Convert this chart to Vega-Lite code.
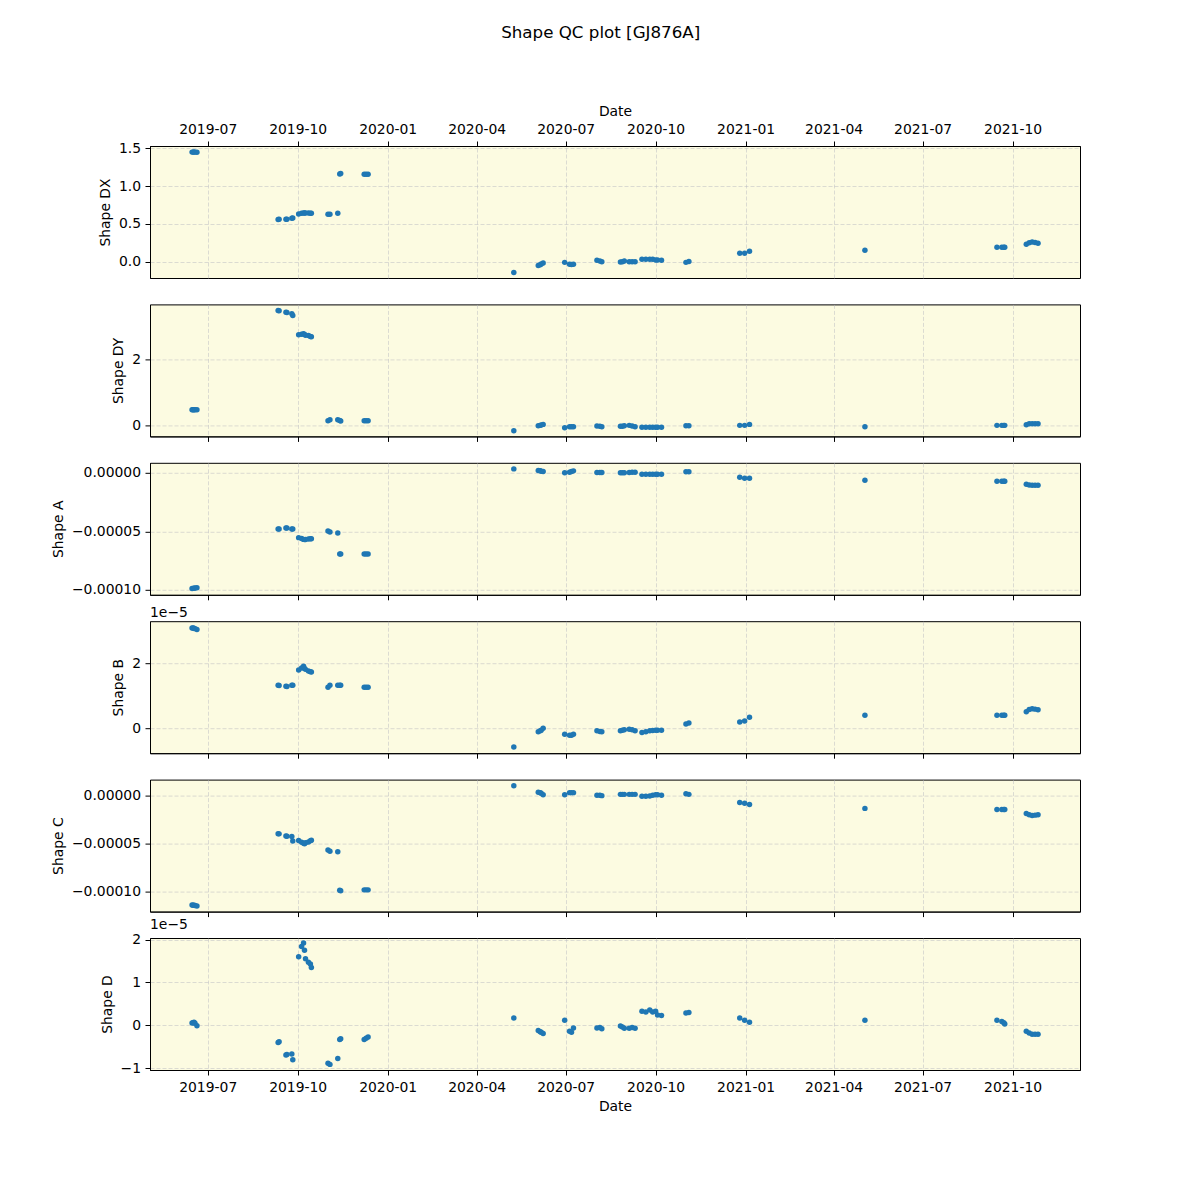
{
  "$schema": "https://vega.github.io/schema/vega-lite/v6.json",
  "background": "white",
  "padding": {"left": 50, "top": 25, "right": 10, "bottom": 10},
  "title": {"text": "Shape QC plot [GJ876A]", "fontSize": 16.7, "fontWeight": "normal", "anchor": "middle", "font": "DejaVu Sans", "color": "black", "offset": 62, "dx": 35},
  "config": {
    "font": "DejaVu Sans",
    "view": {"fill": "#fcfbe1", "stroke": "black", "strokeWidth": 1},
    "axis": {
      "labelFont": "DejaVu Sans", "labelFontSize": 13.9, "labelColor": "black",
      "titleFont": "DejaVu Sans", "titleFontSize": 13.9, "titleFontWeight": "normal", "titleColor": "black",
      "domainColor": "black", "tickColor": "black", "tickSize": 5, "tickWidth": 1, "labelPadding": 4.5,
      "grid": true, "gridColor": "#b8b8c0", "gridOpacity": 0.6, "gridDash": [4, 2], "gridWidth": 0.8,
      "titlePadding": 6
    },
    "concat": {"spacing": 26.4}
  },
  "data": {"values": [
    {"date": "2019-06-15", "DX": 1.451, "DY": 0.477, "A": -9.89e-5, "B": 3.10e-5, "C": -1.135e-4, "D": 0.055e-5},
    {"date": "2019-06-16", "DX": 1.451, "DY": 0.477, "A": -9.88e-5, "B": 3.10e-5, "C": -1.137e-4, "D": 0.06e-5},
    {"date": "2019-06-17", "DX": 1.452, "DY": 0.478, "A": -9.86e-5, "B": 3.09e-5, "C": -1.139e-4, "D": 0.07e-5},
    {"date": "2019-06-18", "DX": 1.451, "DY": 0.477, "A": -9.85e-5, "B": 3.08e-5, "C": -1.140e-4, "D": 0.05e-5},
    {"date": "2019-06-20", "DX": 1.450, "DY": 0.476, "A": -9.83e-5, "B": 3.05e-5, "C": -1.145e-4, "D": -0.008e-5},
    {"date": "2019-09-11", "DX": 0.560, "DY": 3.49, "A": -4.80e-5, "B": 1.33e-5, "C": -3.98e-5, "D": -0.40e-5},
    {"date": "2019-09-12", "DX": 0.563, "DY": 3.48, "A": -4.81e-5, "B": 1.32e-5, "C": -3.99e-5, "D": -0.38e-5},
    {"date": "2019-09-19", "DX": 0.562, "DY": 3.44, "A": -4.71e-5, "B": 1.30e-5, "C": -4.22e-5, "D": -0.69e-5},
    {"date": "2019-09-20", "DX": 0.563, "DY": 3.43, "A": -4.72e-5, "B": 1.29e-5, "C": -4.24e-5, "D": -0.68e-5},
    {"date": "2019-09-25", "DX": 0.575, "DY": 3.39, "A": -4.80e-5, "B": 1.33e-5, "C": -4.26e-5, "D": -0.67e-5},
    {"date": "2019-09-26", "DX": 0.578, "DY": 3.34, "A": -4.81e-5, "B": 1.33e-5, "C": -4.74e-5, "D": -0.80e-5},
    {"date": "2019-10-02", "DX": 0.633, "DY": 2.75, "A": -5.54e-5, "B": 1.80e-5, "C": -4.67e-5, "D": 1.60e-5},
    {"date": "2019-10-05", "DX": 0.640, "DY": 2.77, "A": -5.62e-5, "B": 1.86e-5, "C": -4.85e-5, "D": 1.84e-5},
    {"date": "2019-10-07", "DX": 0.646, "DY": 2.78, "A": -5.69e-5, "B": 1.92e-5, "C": -4.95e-5, "D": 1.92e-5},
    {"date": "2019-10-08", "DX": 0.646, "DY": 2.76, "A": -5.71e-5, "B": 1.85e-5, "C": -5.02e-5, "D": 1.75e-5},
    {"date": "2019-10-09", "DX": 0.646, "DY": 2.74, "A": -5.70e-5, "B": 1.82e-5, "C": -4.90e-5, "D": 1.55e-5},
    {"date": "2019-10-12", "DX": 0.646, "DY": 2.73, "A": -5.66e-5, "B": 1.77e-5, "C": -4.84e-5, "D": 1.47e-5},
    {"date": "2019-10-14", "DX": 0.642, "DY": 2.70, "A": -5.63e-5, "B": 1.75e-5, "C": -4.71e-5, "D": 1.43e-5},
    {"date": "2019-10-15", "DX": 0.642, "DY": 2.69, "A": -5.63e-5, "B": 1.74e-5, "C": -4.64e-5, "D": 1.35e-5},
    {"date": "2019-11-01", "DX": 0.628, "DY": 0.14, "A": -4.97e-5, "B": 1.27e-5, "C": -5.67e-5, "D": -0.885e-5},
    {"date": "2019-11-03", "DX": 0.628, "DY": 0.17, "A": -5.06e-5, "B": 1.33e-5, "C": -5.78e-5, "D": -0.91e-5},
    {"date": "2019-11-11", "DX": 0.642, "DY": 0.17, "A": -5.14e-5, "B": 1.33e-5, "C": -5.85e-5, "D": -0.775e-5},
    {"date": "2019-11-13", "DX": 1.160, "DY": 0.15, "A": -6.94e-5, "B": 1.33e-5, "C": -9.82e-5, "D": -0.33e-5},
    {"date": "2019-11-14", "DX": 1.168, "DY": 0.13, "A": -6.95e-5, "B": 1.33e-5, "C": -9.88e-5, "D": -0.31e-5},
    {"date": "2019-12-08", "DX": 1.159, "DY": 0.14, "A": -6.94e-5, "B": 1.27e-5, "C": -9.79e-5, "D": -0.33e-5},
    {"date": "2019-12-10", "DX": 1.159, "DY": 0.14, "A": -6.94e-5, "B": 1.27e-5, "C": -9.79e-5, "D": -0.30e-5},
    {"date": "2019-12-12", "DX": 1.159, "DY": 0.14, "A": -6.94e-5, "B": 1.27e-5, "C": -9.79e-5, "D": -0.27e-5},
    {"date": "2020-05-09", "DX": -0.142, "DY": -0.16, "A": 0.34e-5, "B": -0.58e-5, "C": 1.0e-5, "D": 0.17e-5},
    {"date": "2020-06-03", "DX": -0.049, "DY": -0.01, "A": 0.20e-5, "B": -0.11e-5, "C": 0.31e-5, "D": -0.12e-5},
    {"date": "2020-06-05", "DX": -0.040, "DY": 0.00, "A": 0.18e-5, "B": -0.08e-5, "C": 0.26e-5, "D": -0.15e-5},
    {"date": "2020-06-06", "DX": -0.031, "DY": 0.01, "A": 0.14e-5, "B": -0.06e-5, "C": 0.21e-5, "D": -0.16e-5},
    {"date": "2020-06-08", "DX": -0.018, "DY": 0.03, "A": 0.11e-5, "B": 0.00, "C": 0.07e-5, "D": -0.19e-5},
    {"date": "2020-06-30", "DX": -0.009, "DY": -0.07, "A": 0.0, "B": -0.19e-5, "C": 0.07e-5, "D": 0.12e-5},
    {"date": "2020-07-05", "DX": -0.035, "DY": -0.04, "A": 0.06e-5, "B": -0.22e-5, "C": 0.28e-5, "D": -0.14e-5},
    {"date": "2020-07-07", "DX": -0.037, "DY": -0.04, "A": 0.12e-5, "B": -0.22e-5, "C": 0.28e-5, "D": -0.16e-5},
    {"date": "2020-07-09", "DX": -0.035, "DY": -0.04, "A": 0.17e-5, "B": -0.19e-5, "C": 0.28e-5, "D": -0.06e-5},
    {"date": "2020-08-02", "DX": 0.018, "DY": -0.02, "A": 0.03e-5, "B": -0.08e-5, "C": 0.0, "D": -0.06e-5},
    {"date": "2020-08-05", "DX": 0.009, "DY": -0.03, "A": 0.03e-5, "B": -0.10e-5, "C": 0.0, "D": -0.05e-5},
    {"date": "2020-08-07", "DX": 0.000, "DY": -0.04, "A": 0.03e-5, "B": -0.11e-5, "C": -0.03e-5, "D": -0.08e-5},
    {"date": "2020-08-26", "DX": -0.004, "DY": -0.03, "A": 0.0, "B": -0.08e-5, "C": 0.10e-5, "D": -0.015e-5},
    {"date": "2020-08-28", "DX": 0.000, "DY": -0.03, "A": 0.0, "B": -0.06e-5, "C": 0.10e-5, "D": -0.04e-5},
    {"date": "2020-08-30", "DX": 0.009, "DY": -0.01, "A": 0.0, "B": -0.05e-5, "C": 0.10e-5, "D": -0.07e-5},
    {"date": "2020-09-04", "DX": 0.000, "DY": 0.00, "A": 0.03e-5, "B": -0.03e-5, "C": 0.10e-5, "D": -0.07e-5},
    {"date": "2020-09-07", "DX": 0.000, "DY": -0.02, "A": 0.06e-5, "B": -0.05e-5, "C": 0.10e-5, "D": -0.05e-5},
    {"date": "2020-09-10", "DX": 0.000, "DY": -0.04, "A": 0.06e-5, "B": -0.08e-5, "C": 0.10e-5, "D": -0.07e-5},
    {"date": "2020-09-17", "DX": 0.031, "DY": -0.06, "A": -0.11e-5, "B": -0.13e-5, "C": -0.10e-5, "D": 0.33e-5},
    {"date": "2020-09-21", "DX": 0.031, "DY": -0.06, "A": -0.11e-5, "B": -0.11e-5, "C": -0.10e-5, "D": 0.31e-5},
    {"date": "2020-09-25", "DX": 0.031, "DY": -0.06, "A": -0.11e-5, "B": -0.08e-5, "C": -0.07e-5, "D": 0.36e-5},
    {"date": "2020-09-28", "DX": 0.031, "DY": -0.06, "A": -0.11e-5, "B": -0.07e-5, "C": 0.0, "D": 0.31e-5},
    {"date": "2020-10-01", "DX": 0.022, "DY": -0.06, "A": -0.11e-5, "B": -0.06e-5, "C": 0.07e-5, "D": 0.33e-5},
    {"date": "2020-10-03", "DX": 0.022, "DY": -0.06, "A": -0.11e-5, "B": -0.06e-5, "C": 0.07e-5, "D": 0.24e-5},
    {"date": "2020-10-07", "DX": 0.018, "DY": -0.06, "A": -0.11e-5, "B": -0.06e-5, "C": 0.0, "D": 0.23e-5},
    {"date": "2020-11-01", "DX": -0.009, "DY": -0.01, "A": 0.09e-5, "B": 0.13e-5, "C": 0.17e-5, "D": 0.29e-5},
    {"date": "2020-11-04", "DX": 0.004, "DY": -0.01, "A": 0.09e-5, "B": 0.16e-5, "C": 0.10e-5, "D": 0.30e-5},
    {"date": "2020-12-26", "DX": 0.111, "DY": 0.00, "A": -0.37e-5, "B": 0.19e-5, "C": -0.73e-5, "D": 0.17e-5},
    {"date": "2020-12-31", "DX": 0.111, "DY": 0.00, "A": -0.46e-5, "B": 0.22e-5, "C": -0.83e-5, "D": 0.12e-5},
    {"date": "2021-01-05", "DX": 0.137, "DY": 0.03, "A": -0.46e-5, "B": 0.34e-5, "C": -0.94e-5, "D": 0.07e-5},
    {"date": "2021-05-03", "DX": 0.150, "DY": -0.04, "A": -0.63e-5, "B": 0.40e-5, "C": -1.35e-5, "D": 0.12e-5},
    {"date": "2021-09-15", "DX": 0.190, "DY": 0.00, "A": -0.71e-5, "B": 0.40e-5, "C": -1.46e-5, "D": 0.12e-5},
    {"date": "2021-09-20", "DX": 0.190, "DY": 0.00, "A": -0.71e-5, "B": 0.40e-5, "C": -1.46e-5, "D": 0.09e-5},
    {"date": "2021-09-22", "DX": 0.190, "DY": 0.00, "A": -0.71e-5, "B": 0.40e-5, "C": -1.46e-5, "D": 0.06e-5},
    {"date": "2021-09-23", "DX": 0.190, "DY": 0.00, "A": -0.71e-5, "B": 0.40e-5, "C": -1.46e-5, "D": 0.03e-5},
    {"date": "2021-10-15", "DX": 0.230, "DY": 0.02, "A": -0.97e-5, "B": 0.51e-5, "C": -1.88e-5, "D": -0.14e-5},
    {"date": "2021-10-18", "DX": 0.252, "DY": 0.05, "A": -1.03e-5, "B": 0.58e-5, "C": -2.00e-5, "D": -0.18e-5},
    {"date": "2021-10-21", "DX": 0.261, "DY": 0.05, "A": -1.06e-5, "B": 0.60e-5, "C": -2.08e-5, "D": -0.21e-5},
    {"date": "2021-10-24", "DX": 0.255, "DY": 0.05, "A": -1.06e-5, "B": 0.59e-5, "C": -2.05e-5, "D": -0.21e-5},
    {"date": "2021-10-27", "DX": 0.243, "DY": 0.05, "A": -1.06e-5, "B": 0.57e-5, "C": -2.01e-5, "D": -0.21e-5}
  ]},
  "bounds": "flush",
  "spacing": 26.4,
  "vconcat": [
    {
      "width": 930, "height": 132,
      "mark": {"type": "circle", "size": 30, "opacity": 1, "color": "#1f77b4"},
      "encoding": {
        "x": {"field": "date", "type": "temporal",
          "scale": {"type": "utc", "domain": [{"year": 2019, "month": 5, "date": 3, "utc": true}, {"year": 2021, "month": 12, "date": 8, "hours": 22, "utc": true}]},
          "axis": {"orient": "top", "title": "Date", "format": "%Y-%m", "labelFlush": false, "titlePadding": 4,
            "values": [{"year": 2019, "month": 7, "date": 1, "utc": true}, {"year": 2019, "month": 10, "date": 1, "utc": true}, {"year": 2020, "month": 1, "date": 1, "utc": true}, {"year": 2020, "month": 4, "date": 1, "utc": true}, {"year": 2020, "month": 7, "date": 1, "utc": true}, {"year": 2020, "month": 10, "date": 1, "utc": true}, {"year": 2021, "month": 1, "date": 1, "utc": true}, {"year": 2021, "month": 4, "date": 1, "utc": true}, {"year": 2021, "month": 7, "date": 1, "utc": true}, {"year": 2021, "month": 10, "date": 1, "utc": true}]}},
        "y": {"field": "DX", "type": "quantitative", "scale": {"domain": [-0.216, 1.532], "nice": false, "zero": false},
          "axis": {"title": "Shape DX", "values": [0, 0.5, 1, 1.5], "format": ".1f"}}
      }
    },
    {
      "width": 930, "height": 132,
      "mark": {"type": "circle", "size": 30, "opacity": 1, "color": "#1f77b4"},
      "encoding": {
        "x": {"field": "date", "type": "temporal",
          "scale": {"type": "utc", "domain": [{"year": 2019, "month": 5, "date": 3, "utc": true}, {"year": 2021, "month": 12, "date": 8, "hours": 22, "utc": true}]},
          "axis": {"title": null, "labels": false,
            "values": [{"year": 2019, "month": 7, "date": 1, "utc": true}, {"year": 2019, "month": 10, "date": 1, "utc": true}, {"year": 2020, "month": 1, "date": 1, "utc": true}, {"year": 2020, "month": 4, "date": 1, "utc": true}, {"year": 2020, "month": 7, "date": 1, "utc": true}, {"year": 2020, "month": 10, "date": 1, "utc": true}, {"year": 2021, "month": 1, "date": 1, "utc": true}, {"year": 2021, "month": 4, "date": 1, "utc": true}, {"year": 2021, "month": 7, "date": 1, "utc": true}, {"year": 2021, "month": 10, "date": 1, "utc": true}]}},
        "y": {"field": "DY", "type": "quantitative", "scale": {"domain": [-0.335, 3.675], "nice": false, "zero": false},
          "axis": {"title": "Shape DY", "values": [0, 2], "format": "d"}}
      }
    },
    {
      "width": 930, "height": 132,
      "mark": {"type": "circle", "size": 30, "opacity": 1, "color": "#1f77b4"},
      "encoding": {
        "x": {"field": "date", "type": "temporal",
          "scale": {"type": "utc", "domain": [{"year": 2019, "month": 5, "date": 3, "utc": true}, {"year": 2021, "month": 12, "date": 8, "hours": 22, "utc": true}]},
          "axis": {"title": null, "labels": false,
            "values": [{"year": 2019, "month": 7, "date": 1, "utc": true}, {"year": 2019, "month": 10, "date": 1, "utc": true}, {"year": 2020, "month": 1, "date": 1, "utc": true}, {"year": 2020, "month": 4, "date": 1, "utc": true}, {"year": 2020, "month": 7, "date": 1, "utc": true}, {"year": 2020, "month": 10, "date": 1, "utc": true}, {"year": 2021, "month": 1, "date": 1, "utc": true}, {"year": 2021, "month": 4, "date": 1, "utc": true}, {"year": 2021, "month": 7, "date": 1, "utc": true}, {"year": 2021, "month": 10, "date": 1, "utc": true}]}},
        "y": {"field": "A", "type": "quantitative", "scale": {"domain": [-1.043e-4, 0.86e-5], "nice": false, "zero": false},
          "axis": {"title": "Shape A", "values": [-1e-4, -5e-5, 0], "format": ".5f"}}
      }
    },
    {
      "width": 930, "height": 132,
      "title": {"text": "1e\u22125", "anchor": "start", "frame": "group", "fontSize": 13.9, "fontWeight": "normal", "font": "DejaVu Sans", "color": "black", "offset": 1},
      "mark": {"type": "circle", "size": 30, "opacity": 1, "color": "#1f77b4"},
      "encoding": {
        "x": {"field": "date", "type": "temporal",
          "scale": {"type": "utc", "domain": [{"year": 2019, "month": 5, "date": 3, "utc": true}, {"year": 2021, "month": 12, "date": 8, "hours": 22, "utc": true}]},
          "axis": {"title": null, "labels": false,
            "values": [{"year": 2019, "month": 7, "date": 1, "utc": true}, {"year": 2019, "month": 10, "date": 1, "utc": true}, {"year": 2020, "month": 1, "date": 1, "utc": true}, {"year": 2020, "month": 4, "date": 1, "utc": true}, {"year": 2020, "month": 7, "date": 1, "utc": true}, {"year": 2020, "month": 10, "date": 1, "utc": true}, {"year": 2021, "month": 1, "date": 1, "utc": true}, {"year": 2021, "month": 4, "date": 1, "utc": true}, {"year": 2021, "month": 7, "date": 1, "utc": true}, {"year": 2021, "month": 10, "date": 1, "utc": true}]}},
        "y": {"field": "B", "type": "quantitative", "scale": {"domain": [-0.773e-5, 3.31e-5], "nice": false, "zero": false},
          "axis": {"title": "Shape B", "values": [0, 2e-5], "labelExpr": "format(round(datum.value * 1e5), 'd')"}}
      }
    },
    {
      "width": 930, "height": 132,
      "mark": {"type": "circle", "size": 30, "opacity": 1, "color": "#1f77b4"},
      "encoding": {
        "x": {"field": "date", "type": "temporal",
          "scale": {"type": "utc", "domain": [{"year": 2019, "month": 5, "date": 3, "utc": true}, {"year": 2021, "month": 12, "date": 8, "hours": 22, "utc": true}]},
          "axis": {"title": null, "labels": false,
            "values": [{"year": 2019, "month": 7, "date": 1, "utc": true}, {"year": 2019, "month": 10, "date": 1, "utc": true}, {"year": 2020, "month": 1, "date": 1, "utc": true}, {"year": 2020, "month": 4, "date": 1, "utc": true}, {"year": 2020, "month": 7, "date": 1, "utc": true}, {"year": 2020, "month": 10, "date": 1, "utc": true}, {"year": 2021, "month": 1, "date": 1, "utc": true}, {"year": 2021, "month": 4, "date": 1, "utc": true}, {"year": 2021, "month": 7, "date": 1, "utc": true}, {"year": 2021, "month": 10, "date": 1, "utc": true}]}},
        "y": {"field": "C", "type": "quantitative", "scale": {"domain": [-1.204e-4, 1.63e-5], "nice": false, "zero": false},
          "axis": {"title": "Shape C", "values": [-1e-4, -5e-5, 0], "format": ".5f"}}
      }
    },
    {
      "width": 930, "height": 132,
      "title": {"text": "1e\u22125", "anchor": "start", "frame": "group", "fontSize": 13.9, "fontWeight": "normal", "font": "DejaVu Sans", "color": "black", "offset": 1},
      "mark": {"type": "circle", "size": 30, "opacity": 1, "color": "#1f77b4"},
      "encoding": {
        "x": {"field": "date", "type": "temporal",
          "scale": {"type": "utc", "domain": [{"year": 2019, "month": 5, "date": 3, "utc": true}, {"year": 2021, "month": 12, "date": 8, "hours": 22, "utc": true}]},
          "axis": {"orient": "bottom", "title": "Date", "format": "%Y-%m", "labelFlush": false, "titlePadding": 5, "labelPadding": 5.5,
            "values": [{"year": 2019, "month": 7, "date": 1, "utc": true}, {"year": 2019, "month": 10, "date": 1, "utc": true}, {"year": 2020, "month": 1, "date": 1, "utc": true}, {"year": 2020, "month": 4, "date": 1, "utc": true}, {"year": 2020, "month": 7, "date": 1, "utc": true}, {"year": 2020, "month": 10, "date": 1, "utc": true}, {"year": 2021, "month": 1, "date": 1, "utc": true}, {"year": 2021, "month": 4, "date": 1, "utc": true}, {"year": 2021, "month": 7, "date": 1, "utc": true}, {"year": 2021, "month": 10, "date": 1, "utc": true}]}},
        "y": {"field": "D", "type": "quantitative", "scale": {"domain": [-1.041e-5, 2.036e-5], "nice": false, "zero": false},
          "axis": {"title": "Shape D", "values": [-1e-5, 0, 1e-5, 2e-5], "labelExpr": "format(round(datum.value * 1e5), 'd')"}}
      }
    }
  ]
}
